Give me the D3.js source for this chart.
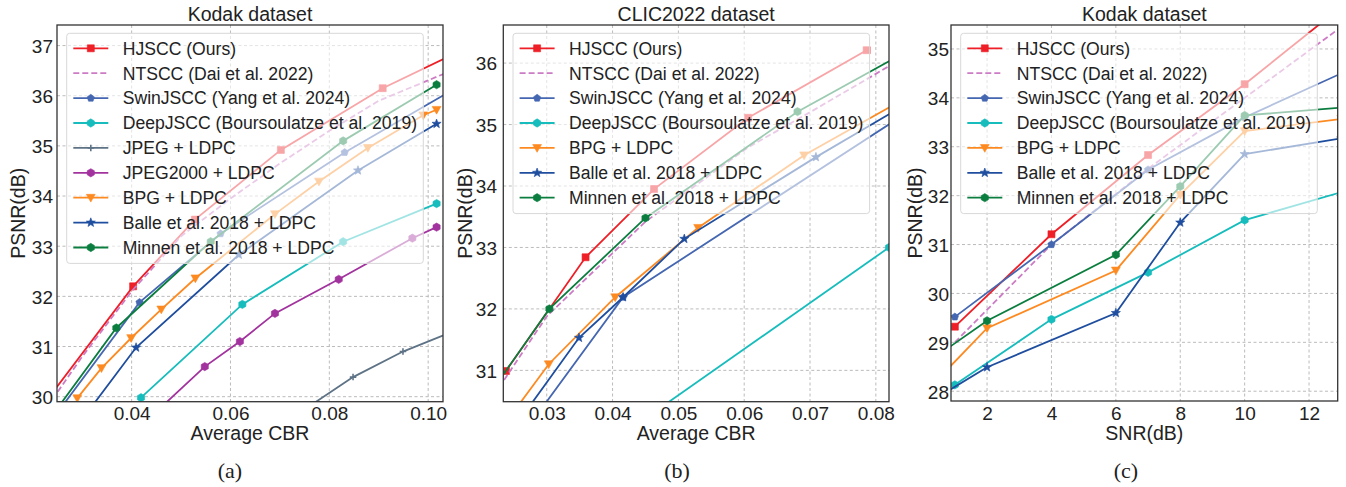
<!DOCTYPE html>
<html><head><meta charset="utf-8">
<script src="https://cdn.jsdelivr.net/npm/d3@7"></script>
<style>
body{margin:0;background:#fff}
svg{display:block}
text{font-family:"Liberation Sans",Arial,Helvetica,sans-serif;fill:#222}
</style>
</head><body>
<svg id="chart" width="1346" height="487"></svg>
<script>
// ---------------- DATA ----------------
const seriesNames = ["HJSCC (Ours)","NTSCC (Dai et al. 2022)","SwinJSCC (Yang et al. 2024)","DeepJSCC (Boursoulatze et al. 2019)","JPEG + LDPC","JPEG2000 + LDPC","BPG + LDPC","Balle et al. 2018 + LDPC","Minnen et al. 2018 + LDPC"];

// (a) Kodak, PSNR vs average CBR
const a_hjscc  = [[0.022,29.82],[0.0403,32.2],[0.0528,33.53],[0.0702,34.92],[0.0908,36.15],[0.11,37.06]];
const a_ntscc  = [[0.024,29.95],[0.03,30.8],[0.04,32.1],[0.05,33.2],[0.06,33.95],[0.07,34.65],[0.08,35.3],[0.09,35.9],[0.104,36.47]];
const a_swin   = [[0.0255,29.75],[0.0416,31.88],[0.058,33.25],[0.0831,34.87],[0.105,36.12]];
const a_deep   = [[0.0419,29.98],[0.0624,31.84],[0.0828,33.09],[0.1017,33.85]];
const a_jpeg   = [[0.0755,29.78],[0.0848,30.39],[0.0949,30.9],[0.105,31.3]];
const a_j2k    = [[0.045,29.7],[0.0548,30.6],[0.0619,31.1],[0.069,31.66],[0.0819,32.34],[0.0968,33.16],[0.1017,33.38]];
const a_bpg    = [[0.029,29.97],[0.0339,30.57],[0.0399,31.17],[0.046,31.74],[0.0529,32.36],[0.069,33.64],[0.0779,34.29],[0.0878,34.96],[0.099,35.61],[0.1017,35.72]];
const a_balle  = [[0.031,29.68],[0.0409,30.98],[0.0617,32.83],[0.0858,34.51],[0.1017,35.44]];
const a_minnen = [[0.025,29.77],[0.0369,31.37],[0.056,33.09],[0.0828,35.1],[0.1017,36.22]];

// (b) CLIC2022, PSNR vs average CBR
const b_hjscc  = [[0.0238,30.99],[0.0359,32.84],[0.0463,33.95],[0.0606,35.11],[0.0786,36.21]];
const b_ntscc  = [[0.022,30.6],[0.03,31.88],[0.045,33.42],[0.0606,34.63],[0.07,35.2],[0.082,35.95],[0.09,36.4]];
const b_swin   = [[0.028,30.2],[0.0416,32.19],[0.09,35.56]];
const b_deep   = [[0.045,30.22],[0.082,33.0]];
const b_bpg    = [[0.025,30.33],[0.0303,31.1],[0.0404,32.19],[0.053,33.32],[0.0691,34.5],[0.09,35.76]];
const b_balle  = [[0.026,30.21],[0.0349,31.53],[0.0416,32.19],[0.0509,33.14],[0.0709,34.47],[0.09,35.67]];
const b_minnen = [[0.022,30.72],[0.0304,32.0],[0.045,33.48],[0.0681,35.21],[0.09,36.5]];

// (c) Kodak, PSNR vs SNR
const c_hjscc  = [[1,29.32],[4,31.21],[7,32.83],[10,34.28],[13,35.86]];
const c_ntscc  = [[1,29.0],[4,31.0],[7,32.55],[10,34.0],[13,35.45]];
const c_swin   = [[1,29.52],[4,31.0],[7,32.53],[10,33.6],[13,34.5]];
const c_deep   = [[1,28.13],[4,29.47],[7,30.43],[10,31.5],[13,32.07]];
const c_bpg    = [[0,27.92],[2,29.29],[6,30.47],[8,32.02],[10,33.32],[13,33.57]];
const c_balle  = [[0,27.69],[2,28.49],[6,29.6],[8,31.45],[10,32.85],[13,33.17]];
const c_minnen = [[0,28.52],[2,29.44],[6,30.79],[8,32.19],[10,33.64],[13,33.8]];

// tick labels
const a_xticks = [0.04,0.06,0.08,0.10];
const a_yticks = [30,31,32,33,34,35,36,37];
const b_xticks = [0.03,0.04,0.05,0.06,0.07,0.08];
const b_yticks = [31,32,33,34,35,36];
const c_xticks = [2,4,6,8,10,12];
const c_yticks = [28,29,30,31,32,33,34,35];

// ---------------- STYLE ----------------
const styles = {
  "HJSCC (Ours)": {color:"#ee1f26", marker:"square", ms:7},
  "NTSCC (Dai et al. 2022)": {color:"#cc7cc4", dash:"6,3", marker:null},
  "SwinJSCC (Yang et al. 2024)": {color:"#4567b1", marker:"pentagon", ms:7},
  "DeepJSCC (Boursoulatze et al. 2019)": {color:"#17bcbc", marker:"hexagon", ms:7.5},
  "JPEG + LDPC": {color:"#5f7387", marker:"plus", ms:6.5},
  "JPEG2000 + LDPC": {color:"#a2339e", marker:"hexagon", ms:7.5},
  "BPG + LDPC": {color:"#fd8a21", marker:"tri", ms:8},
  "Balle et al. 2018 + LDPC": {color:"#1f4e9f", marker:"star", ms:8},
  "Minnen et al. 2018 + LDPC": {color:"#0b7e3f", marker:"hexagon", ms:7.5}
};

const panels = [
  {id:"a", title:"Kodak dataset", xlabel:"Average CBR", tag:"(a)", tagX:230,
   L:57, R:443, T:25, B:401.7, xd:[0.0249,0.103], yd:[29.9,37.41],
   xt:a_xticks, yt:a_yticks, xf:d3.format(".2f"), ylabX:53, ylabelX:25,
   series:[a_hjscc,a_ntscc,a_swin,a_deep,a_jpeg,a_j2k,a_bpg,a_balle,a_minnen],
   names:seriesNames},
  {id:"b", title:"CLIC2022 dataset", xlabel:"Average CBR", tag:"(b)", tagX:677,
   L:503.3, R:889, T:25, B:401.7, xd:[0.0234,0.082], yd:[30.49,36.62],
   xt:b_xticks, yt:b_yticks, xf:d3.format(".2f"), ylabX:497, ylabelX:472,
   series:[b_hjscc,b_ntscc,b_swin,b_deep,b_bpg,b_balle,b_minnen],
   names:[seriesNames[0],seriesNames[1],seriesNames[2],seriesNames[3],seriesNames[6],seriesNames[7],seriesNames[8]]},
  {id:"c", title:"Kodak dataset", xlabel:"SNR(dB)", tag:"(c)", tagX:1126,
   L:951, R:1337.7, T:25, B:401, xd:[0.88,12.89], yd:[27.8,35.49],
   xt:c_xticks, yt:c_yticks, xf:d3.format("d"), ylabX:949, ylabelX:922,
   series:[c_hjscc,c_ntscc,c_swin,c_deep,c_bpg,c_balle,c_minnen],
   names:[seriesNames[0],seriesNames[1],seriesNames[2],seriesNames[3],seriesNames[6],seriesNames[7],seriesNames[8]]}
];

function poly(n, r, rot){
  const pts=[];
  for(let i=0;i<n;i++){const a=rot+i*2*Math.PI/n; pts.push([r*Math.cos(a), r*Math.sin(a)]);}
  return "M"+pts.map(p=>p[0].toFixed(2)+","+p[1].toFixed(2)).join("L")+"Z";
}
function star(r){
  const pts=[];
  for(let i=0;i<10;i++){const a=-Math.PI/2+i*Math.PI/5; const rr=i%2?r*0.42:r; pts.push([rr*Math.cos(a), rr*Math.sin(a)]);}
  return "M"+pts.map(p=>p[0].toFixed(2)+","+p[1].toFixed(2)).join("L")+"Z";
}
function markerPath(shape, s){
  switch(shape){
    case "square": return `M${-s/2},${-s/2}h${s}v${s}h${-s}Z`;
    case "tri": return `M${-s*0.55},${-s*0.42}L${s*0.55},${-s*0.42}L0,${s*0.55}Z`;
    case "pentagon": return poly(5, s*0.55, -Math.PI/2);
    case "hexagon": return poly(6, s*0.55, -Math.PI/2);
    case "star": return star(s*0.6);
    case "plus": return `M${-s/2},0H${s/2}M0,${-s/2}V${s/2}`;
  }
  return "";
}
function drawMarker(g, shape, s, color, x, y){
  if(!shape) return;
  const p = g.append("path").attr("d", markerPath(shape, s)).attr("transform", `translate(${x},${y})`);
  if(shape==="plus") p.attr("fill","none").attr("stroke",color).attr("stroke-width",1.6);
  else p.attr("fill",color).attr("stroke",color).attr("stroke-width",0.6);
}

const svg = d3.select("#chart");

panels.forEach(P=>{
  const x = d3.scaleLinear().domain(P.xd).range([P.L,P.R]);
  const y = d3.scaleLinear().domain(P.yd).range([P.B,P.T]);
  const g = svg.append("g");
  const clipId = "clip"+P.id;
  g.append("clipPath").attr("id",clipId).append("rect")
    .attr("x",P.L).attr("y",P.T).attr("width",P.R-P.L).attr("height",P.B-P.T);

  // grid
  const grid = g.append("g");
  P.xt.forEach(t=>grid.append("line").attr("x1",x(t)).attr("x2",x(t)).attr("y1",P.T).attr("y2",P.B)
     .attr("stroke","#b3b3b3").attr("stroke-width",0.9).attr("stroke-dasharray","3,2.5"));
  P.yt.forEach(t=>grid.append("line").attr("y1",y(t)).attr("y2",y(t)).attr("x1",P.L).attr("x2",P.R)
     .attr("stroke","#b3b3b3").attr("stroke-width",0.9).attr("stroke-dasharray","3,2.5"));

  // axes via d3
  const xAxis = d3.axisBottom(x).tickValues(P.xt).tickFormat(P.xf).tickSize(0).tickPadding(0);
  const xg = g.append("g").attr("transform",`translate(0,${P.B})`).call(xAxis);
  xg.select(".domain").remove();
  xg.selectAll("text").attr("dy",null).attr("y",18.5).style("font-size","19px")
    .style("font-family","'Liberation Sans',Arial,sans-serif").attr("fill","#222");
  const yAxis = d3.axisLeft(y).tickValues(P.yt).tickFormat(d3.format("d")).tickSize(0).tickPadding(0);
  const yg = g.append("g").attr("transform",`translate(${P.ylabX},0)`).call(yAxis);
  yg.select(".domain").remove();
  yg.selectAll("text").attr("x",0).attr("dy","0.36em").style("font-size","19px")
    .style("font-family","'Liberation Sans',Arial,sans-serif").attr("fill","#222");

  // series
  const plot = g.append("g").attr("clip-path",`url(#${clipId})`);
  const line = d3.line().x(d=>x(d[0])).y(d=>y(d[1]));
  P.series.forEach((data,i)=>{
    const st = styles[P.names[i]];
    plot.append("path").datum(data).attr("d",line).attr("fill","none")
      .attr("stroke",st.color).attr("stroke-width",1.8)
      .attr("stroke-dasharray",st.dash||null);
    if(st.marker) data.forEach(d=>drawMarker(plot, st.marker, st.ms, st.color, x(d[0]), y(d[1])));
  });

  // legend
  const lx = P.L+9.7, ly = P.T+8.3, lw = 356.6, rowH = 24.9;
  const lh = P.names.length*rowH + 6;
  const lg = g.append("g");
  lg.append("rect").attr("x",lx).attr("y",ly).attr("width",lw).attr("height",lh).attr("rx",3)
    .attr("fill","#fff").attr("fill-opacity",0.6).attr("stroke","#d8d8d8").attr("stroke-width",1);
  P.names.forEach((n,i)=>{
    const st = styles[n];
    const cy = ly + 15 + i*rowH;
    lg.append("line").attr("x1",lx+6.6).attr("x2",lx+41.6).attr("y1",cy).attr("y2",cy)
      .attr("stroke",st.color).attr("stroke-width",1.8).attr("stroke-dasharray",st.dash||null);
    if(st.marker) drawMarker(lg, st.marker, st.ms, st.color, lx+24.1, cy);
    lg.append("text").attr("x",lx+56).attr("y",cy).attr("dy","0.36em").style("font-size","17.6px").text(n);
  });

  // frame
  g.append("rect").attr("x",P.L).attr("y",P.T).attr("width",P.R-P.L).attr("height",P.B-P.T)
    .attr("fill","none").attr("stroke","#333").attr("stroke-width",1.3);

  // titles and labels
  g.append("text").attr("x",(P.L+P.R)/2).attr("y",21).attr("text-anchor","middle").style("font-size","19.5px").text(P.title);
  g.append("text").attr("x",(P.L+P.R)/2).attr("y",440).attr("text-anchor","middle").style("font-size","19.5px").text(P.xlabel);
  g.append("text").attr("transform",`translate(${P.ylabelX},${(P.T+P.B)/2}) rotate(-90)`).attr("text-anchor","middle")
    .style("font-size","19.5px").text("PSNR(dB)");
  g.append("text").attr("x",P.tagX).attr("y",478).attr("text-anchor","middle")
    .style("font-family","'Liberation Serif','Times New Roman',serif").style("font-size","22px").attr("fill","#111").text(P.tag);
});
</script>
</body></html>
